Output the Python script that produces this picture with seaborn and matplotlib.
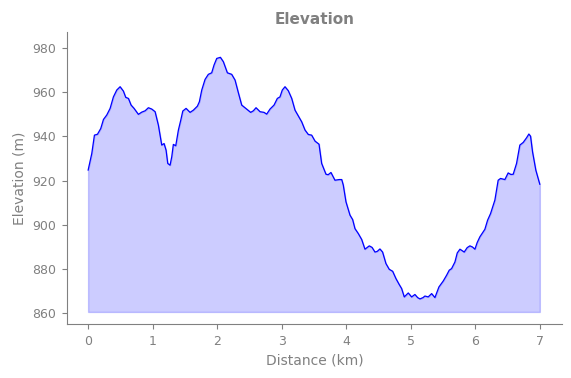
"""Elevation profile of a 7 km route."""

import matplotlib

matplotlib.use("Agg")
import matplotlib.pyplot as plt
import pandas as pd
import seaborn as sns


DISTANCE_KM = [
    0.000, 0.057, 0.098, 0.145, 0.196, 0.238, 0.289, 0.341, 0.392, 0.444,
    0.496, 0.547, 0.583, 0.625, 0.666, 0.712, 0.779, 0.831, 0.883, 0.934,
    0.986, 1.038, 1.089, 1.141, 1.177, 1.208, 1.234, 1.270, 1.296, 1.321,
    1.358, 1.399, 1.436, 1.467, 1.518, 1.580, 1.631, 1.693, 1.724, 1.761,
    1.812, 1.863, 1.915, 1.951, 1.993, 2.050, 2.096, 2.158, 2.225, 2.277,
    2.328, 2.380, 2.457, 2.519, 2.560, 2.602, 2.664, 2.726, 2.767, 2.819,
    2.881, 2.932, 2.973, 3.009, 3.051, 3.102, 3.155, 3.206, 3.257, 3.310,
    3.361, 3.412, 3.464, 3.516, 3.578, 3.619, 3.686, 3.720, 3.763, 3.825,
    3.892, 3.930, 3.954, 3.996, 4.058, 4.099, 4.135, 4.186, 4.239, 4.290,
    4.357, 4.400, 4.445, 4.480, 4.522, 4.563, 4.615, 4.666, 4.719, 4.770,
    4.821, 4.858, 4.899, 4.961, 5.013, 5.064, 5.106, 5.142, 5.190, 5.219,
    5.270, 5.323, 5.374, 5.436, 5.503, 5.555, 5.596, 5.632, 5.684, 5.720,
    5.762, 5.828, 5.874, 5.916, 5.955, 5.994, 6.029, 6.071, 6.148, 6.190,
    6.236, 6.303, 6.354, 6.391, 6.458, 6.509, 6.551, 6.587, 6.639, 6.690,
    6.742, 6.794, 6.830, 6.856, 6.887, 6.938, 7.000,
]

ELEVATION_M = [
    924.7, 932.3, 940.6, 941.0, 943.6, 947.7, 949.7, 952.7, 957.9, 961.0,
    962.5, 960.5, 957.7, 957.2, 954.2, 952.7, 950.0, 951.0, 951.6, 953.0,
    952.4, 951.2, 945.1, 936.1, 936.8, 933.8, 927.8, 927.0, 930.8, 936.4,
    935.8, 942.9, 947.4, 951.5, 952.7, 950.9, 951.9, 953.7, 955.7, 961.0,
    965.8, 968.1, 968.8, 972.3, 975.3, 975.8, 973.8, 968.8, 968.1, 965.5,
    959.8, 954.2, 952.4, 950.9, 951.6, 953.0, 951.2, 950.9, 950.1, 952.4,
    954.2, 957.2, 957.9, 961.0, 962.5, 960.7, 957.2, 951.9, 949.3, 946.6,
    942.9, 940.9, 940.6, 937.9, 936.5, 927.8, 922.9, 922.7, 923.7, 920.2,
    920.5, 920.5, 918.0, 910.4, 904.4, 902.4, 898.3, 896.1, 893.4, 889.0,
    890.5, 889.8, 887.7, 888.0, 889.1, 887.7, 882.5, 879.9, 879.0, 875.7,
    873.0, 871.2, 867.4, 869.2, 867.4, 868.5, 867.1, 866.5, 867.1, 867.8,
    867.4, 868.9, 867.1, 871.9, 874.6, 877.2, 879.5, 880.2, 883.2, 887.3,
    889.0, 887.7, 889.7, 890.5, 890.0, 889.0, 892.0, 894.6, 898.0, 902.1,
    905.1, 911.2, 920.2, 921.0, 920.5, 923.5, 922.8, 922.9, 927.8, 936.1,
    937.3, 939.4, 941.1, 940.1, 933.0, 924.7, 918.3,
]

FILL_BASE = 860.6
TEXT_GREY = "#808080"


def main() -> None:
    sns.set_theme(style="ticks")
    plt.rcParams.update(
        {
            "font.family": ["DejaVu Sans"],
            "axes.edgecolor": TEXT_GREY,
            "axes.labelcolor": TEXT_GREY,
            "xtick.color": TEXT_GREY,
            "ytick.color": TEXT_GREY,
            "xtick.labelsize": 9,
            "ytick.labelsize": 9,
            "axes.labelsize": 10,
            "xtick.major.size": 3.5,
            "ytick.major.size": 3.5,
            "xtick.major.pad": 4.5,
            "ytick.major.pad": 4.5,
            "xtick.major.width": 0.8,
            "ytick.major.width": 0.8,
            "axes.linewidth": 0.8,
        }
    )

    profile = pd.DataFrame({"distance": DISTANCE_KM, "elevation": ELEVATION_M})

    figure, axis = plt.subplots(figsize=(5.71, 3.78), dpi=100)
    figure.subplots_adjust(left=0.117, right=0.985, bottom=0.142, top=0.915)

    axis.fill_between(profile["distance"], profile["elevation"], FILL_BASE,
                      color="blue", alpha=0.2, linewidth=1.0)
    sns.lineplot(data=profile, x="distance", y="elevation", color="blue",
                 linewidth=0.9, ax=axis)

    axis.set_xlim(-0.33, 7.35)
    axis.set_ylim(855.0, 987.2)
    axis.set_yticks(range(860, 981, 20))
    axis.set_title("Elevation", color=TEXT_GREY, fontsize=11, fontweight="bold", pad=6)
    axis.set_xlabel("Distance (km)")
    axis.set_ylabel("Elevation (m)")
    sns.despine(ax=axis)

    figure.savefig("out.png", dpi=100)
    plt.close(figure)


if __name__ == "__main__":
    main()
